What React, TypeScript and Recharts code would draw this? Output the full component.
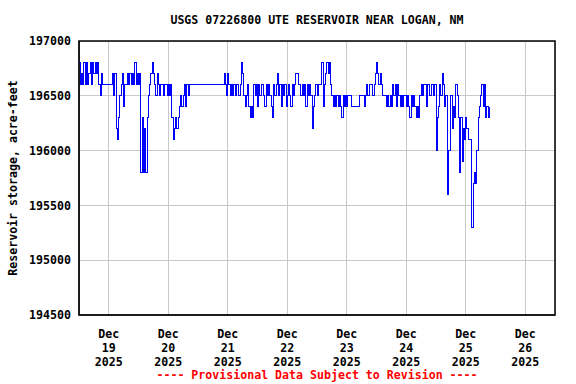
import { LineChart, Line, XAxis, YAxis, CartesianGrid, ReferenceArea } from 'recharts'

// 30-minute readings, first one at Dec 18 12:00 (t = 0 hours)
const STEP_HOURS = 0.5

const storage = [
  196800, 196600, 196700, 196600, 196800, 196600, 196800, 196600, 196700, 196800,
  196600, 196800, 196700, 196800, 196700, 196800, 196600, 196500, 196700, 196600,
  196600, 196600, 196600, 196600, 196600, 196600, 196600, 196700, 196500, 196700,
  196200, 196100, 196300, 196500, 196600, 196700, 196400, 196600, 196600, 196700,
  196600, 196700, 196600, 196700, 196600, 196800, 196600, 196700, 196600, 196700,
  195800, 196300, 195800, 196200, 195800, 196300, 196500, 196600, 196700, 196800,
  196700, 196600, 196500, 196700, 196600, 196500, 196600, 196600, 196500, 196600,
  196600, 196500, 196600, 196500, 196600, 196300, 196100, 196200, 196300, 196200,
  196300, 196400, 196500, 196400, 196500, 196600, 196400, 196600, 196500, 196600,
  196600, 196600, 196600, 196600, 196600, 196600, 196600, 196600, 196600, 196600,
  196600, 196600, 196600, 196600, 196600, 196600, 196600, 196600, 196600, 196600,
  196600, 196600, 196600, 196600, 196600, 196600, 196600, 196700, 196600, 196500,
  196700, 196600, 196500, 196600, 196500, 196600, 196500, 196600, 196600, 196500,
  196600, 196800, 196700, 196500, 196400, 196500, 196600, 196400, 196300, 196400,
  196300, 196600, 196500, 196600, 196400, 196600, 196500, 196600, 196600, 196500,
  196400, 196600, 196500, 196600, 196500, 196400, 196300, 196600, 196500, 196600,
  196700, 196500, 196600, 196400, 196600, 196500, 196600, 196400, 196500, 196600,
  196500, 196400, 196600, 196500, 196600, 196700, 196700, 196600, 196600, 196500,
  196600, 196500, 196600, 196400, 196600, 196500, 196600, 196500, 196200, 196400,
  196500, 196600, 196500, 196600, 196600, 196600, 196800, 196400, 196600, 196700,
  196800, 196700, 196800, 196600, 196500, 196400, 196500, 196400, 196500, 196400,
  196500, 196400, 196300, 196500, 196400, 196500, 196400, 196500, 196500, 196500,
  196400, 196400, 196400, 196400, 196400, 196400, 196500, 196500, 196500, 196500,
  196400, 196500, 196600, 196500, 196600, 196600, 196600, 196500, 196600, 196700,
  196800, 196700, 196600, 196700, 196600, 196500, 196500, 196500, 196400, 196500,
  196400, 196500, 196400, 196600, 196500, 196600, 196400, 196600, 196500, 196400,
  196500, 196400, 196500, 196500, 196400, 196500, 196400, 196300, 196500, 196400,
  196500, 196400, 196300, 196400, 196300, 196500, 196600, 196500, 196600, 196600,
  196400, 196600, 196600, 196500, 196600, 196600, 196500, 196600, 196000, 196300,
  196400, 196600, 196500, 196700, 196600, 196400, 196500, 195600, 196000, 196000,
  196500, 196200, 196400, 196300, 196600, 196500, 196300, 195800, 196300, 195900,
  196200, 196100, 196300, 196200, 196100, 196100, 196100, 195300, 195700, 195800,
  195700, 196000, 196300, 196400, 196500, 196600, 196400, 196600, 196300, 196400,
  196300, 196400,
]

// midnight of each day, in hours from Dec 18 12:00
const dayTicks = [12, 36, 60, 84, 108, 132, 156, 180]
const dayLabels = ['19', '20', '21', '22', '23', '24', '25', '26']
const yTicks = [194500, 195000, 195500, 196000, 196500, 197000]
const xDomain = [0, 192]
const yDomain = [194500, 197000]

const data = storage.map((v, i) => ({ t: i * STEP_HOURS, v }))

const font = '"DejaVu Sans Mono", monospace'
const fontSize = 11.6

const DayTick = ({ x, y, payload }: any) => {
  const label = dayLabels[dayTicks.indexOf(payload.value)]
  return (
    <text x={x} y={y} textAnchor="middle" fontFamily={font} fontWeight="bold" fontSize={fontSize} fill="#000">
      <tspan x={x} dy={15}>Dec</tspan>
      <tspan x={x} dy={14}>{label}</tspan>
      <tspan x={x} dy={14}>2025</tspan>
    </text>
  )
}

const YLabel = () => (
  <text
    x={13}
    y={178}
    transform="rotate(-90 13 178)"
    textAnchor="middle"
    dominantBaseline="central"
    fontFamily={font}
    fontWeight="bold"
    fontSize={fontSize}
    fill="#000"
  >
    Reservoir storage, acre-feet
  </text>
)

const textStyle = {
  position: 'absolute' as const,
  left: 0,
  width: 634,
  textAlign: 'center' as const,
  fontFamily: font,
  fontWeight: 'bold',
  fontSize,
  lineHeight: '14px',
  whiteSpace: 'pre' as const,
}

export default function App() {
  return (
    <div style={{ position: 'absolute', left: 0, top: 0, width: 576, height: 384, background: '#fff' }}>
      <div style={{ ...textStyle, top: 13, color: '#000' }}>USGS 07226800 UTE RESERVOIR NEAR LOGAN, NM</div>
      <LineChart width={576} height={384} data={data} margin={{ top: 41, right: 21, bottom: 0, left: 0 }}>
        <CartesianGrid stroke="#c8c8c8" ticks={yTicks} shapeRendering="crispEdges" />
        <XAxis
          dataKey="t"
          type="number"
          domain={xDomain}
          ticks={dayTicks}
          interval={0}
          height={69}
          tickLine={false}
          tickSize={6}
          axisLine={{ stroke: '#000' }}
          tick={<DayTick />}
        />
        <YAxis
          type="number"
          domain={yDomain}
          ticks={yTicks}
          interval={0}
          width={79}
          tickLine={false}
          axisLine={{ stroke: '#000' }}
          tick={{ fontFamily: font, fontWeight: 'bold', fontSize, fill: '#000' }}
          label={{ content: () => <YLabel /> }}
        />
        <Line
          dataKey="v"
          type="stepAfter"
          stroke="#0000ff"
          strokeWidth={1}
          shapeRendering="crispEdges"
          dot={false}
          activeDot={false}
          isAnimationActive={false}
        />
        <ReferenceArea
          x1={xDomain[0]}
          x2={xDomain[1]}
          y1={yDomain[0]}
          y2={yDomain[1]}
          fill="none"
          stroke="#000"
          strokeWidth={1.5}
          ifOverflow="visible"
        />
      </LineChart>
      <div style={{ ...textStyle, top: 368, color: '#ff0000' }}>---- Provisional Data Subject to Revision ----</div>
    </div>
  )
}
